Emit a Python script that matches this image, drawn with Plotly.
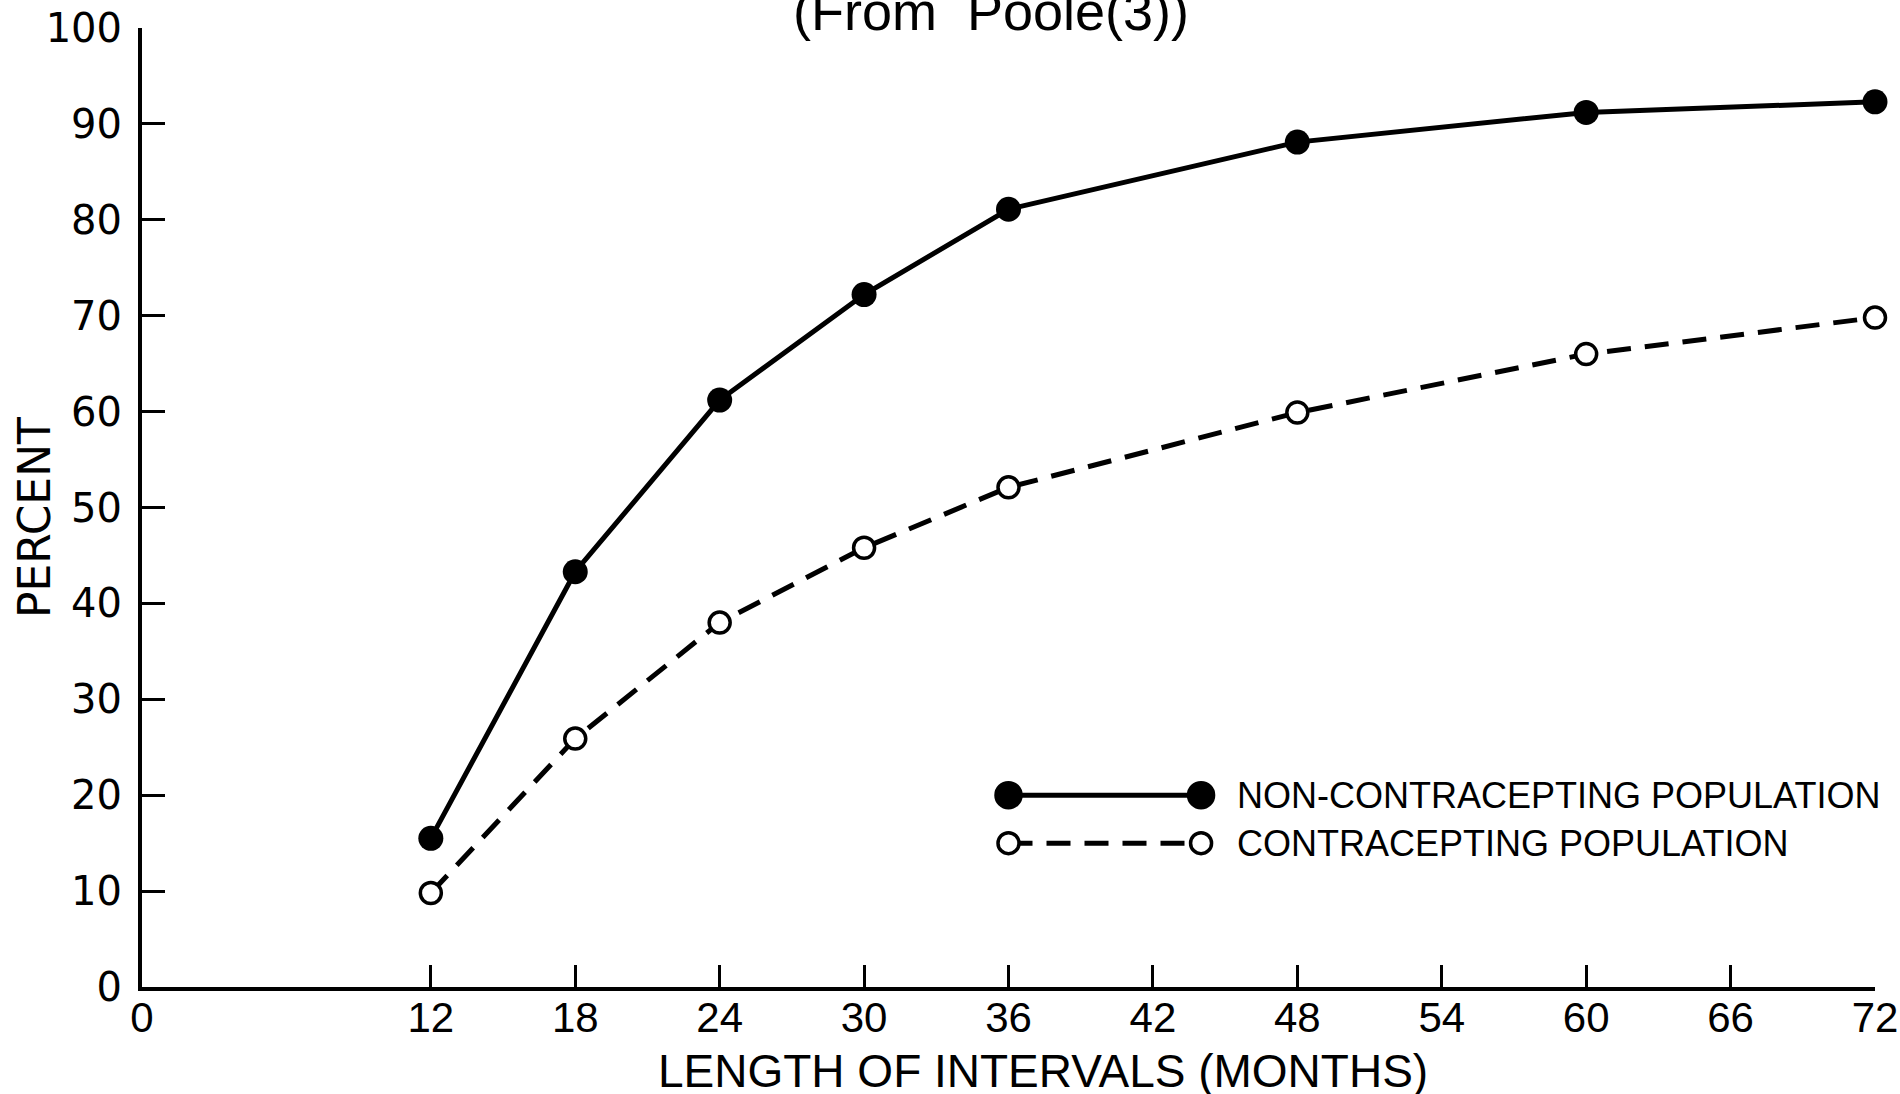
import plotly.graph_objects as go

# values (percent by interval length in months)
months = [12, 18, 24, 30, 36, 48, 60, 72]
non_contracepting = [15.5, 43.3, 61.2, 72.2, 81.1, 88.1, 91.2, 92.3]
contracepting = [9.8, 25.9, 38.0, 45.8, 52.1, 59.9, 66.0, 69.8]

x_ticks = [0, 12, 18, 24, 30, 36, 42, 48, 54, 60, 66, 72]
y_ticks = [0, 10, 20, 30, 40, 50, 60, 70, 80, 90, 100]

series_names = ["NON-CONTRACEPTING POPULATION", "CONTRACEPTING POPULATION"]
title_text = "(From  Poole(3))"
x_title = "LENGTH OF INTERVALS (MONTHS)"
y_title = "PERCENT"

NARROW = "Liberation Sans Narrow, Liberation Sans, sans-serif"
SANS = "Liberation Sans, Arial, sans-serif"
WIDE = "DejaVu Sans, Liberation Sans, sans-serif"
DASH = "24px,14px"

# legend key placement, in data units
key_x = (36, 44)
key_y = (20, 15)
key_text_x = 45.4

fig = go.Figure()

fig.add_trace(go.Scatter(x=months, y=non_contracepting, name=series_names[0],
                         mode="lines+markers", cliponaxis=False,
                         line=dict(color="black", width=5),
                         marker=dict(size=25, color="black")))
fig.add_trace(go.Scatter(x=months, y=contracepting, name=series_names[1],
                         mode="lines+markers", cliponaxis=False,
                         line=dict(color="black", width=5, dash=DASH),
                         marker=dict(size=21, color="white",
                                     line=dict(color="black", width=3.5))))

# hand-drawn style legend keys
for i, (dash, fill, size) in enumerate([("solid", "black", 25), (DASH, "white", 21)]):
    y = key_y[i]
    fig.add_shape(type="line", xref="x", yref="y", x0=key_x[0], x1=key_x[1], y0=y, y1=y,
                  line=dict(color="black", width=5, dash=dash))
    for xk in key_x:
        fig.add_shape(type="circle", xref="x", yref="y", xsizemode="pixel", ysizemode="pixel",
                      xanchor=xk, yanchor=y, x0=-size / 2, x1=size / 2, y0=-size / 2, y1=size / 2,
                      fillcolor=fill, line=dict(color="black", width=3.5))
    fig.add_annotation(x=key_text_x, y=y, xref="x", yref="y", text=series_names[i],
                       showarrow=False, xanchor="left", yanchor="middle",
                       font=dict(family=SANS, size=36, color="black"))

fig.add_annotation(x=0.49, y=1.0177, xref="paper", yref="paper", text=title_text,
                   showarrow=False, xanchor="center", yanchor="middle",
                   font=dict(family=SANS, size=54, color="black"))
fig.add_annotation(x=0.52, y=-0.088, xref="paper", yref="paper", text=x_title,
                   showarrow=False, xanchor="center", yanchor="middle",
                   font=dict(family=SANS, size=46, color="black"))
fig.add_annotation(x=-0.0623, y=0.489, xref="paper", yref="paper", text=y_title,
                   showarrow=False, textangle=-90, xanchor="center", yanchor="middle",
                   font=dict(family=WIDE, size=44, color="black"))

fig.update_xaxes(range=[0, 72], tickvals=x_ticks, ticktext=[str(v) for v in x_ticks],
                 showline=True, linewidth=4, linecolor="black", showgrid=False, zeroline=False,
                 ticks="inside", ticklen=22, tickwidth=3, tickcolor="black",
                 ticklabelstandoff=-9, ticklabeloverflow="allow", automargin=False,
                 tickfont=dict(family=NARROW, size=42, color="black"))
fig.update_yaxes(range=[0, 100], tickvals=y_ticks, ticktext=[str(v) for v in y_ticks],
                 showline=True, linewidth=4, linecolor="black", showgrid=False, zeroline=False,
                 ticks="inside", ticklen=23, tickwidth=3, tickcolor="black",
                 ticklabelstandoff=8, ticklabeloverflow="allow", automargin=False,
                 tickfont=dict(family=WIDE, size=40, color="black"))

fig.update_layout(width=1900, height=1094, showlegend=False,
                  paper_bgcolor="white", plot_bgcolor="white",
                  margin=dict(l=142, r=25, t=28, b=107))

# drop the default 8px page margin so the figure fills the window exactly
fig.write_html("out.html", config={"displayModeBar": False},
               post_script="document.body.style.margin='0';"
                           "document.documentElement.style.overflow='hidden';")
